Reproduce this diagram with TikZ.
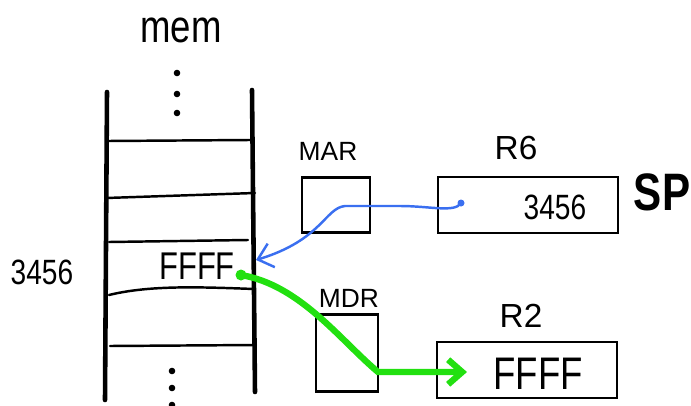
\documentclass[tikz,border=0pt]{standalone}
\usepackage{fontspec}
\setmainfont{Liberation Sans}
\newfontfamily\narrowhand[FakeStretch=0.8]{Liberation Sans}
\usepackage{xcolor}
\usetikzlibrary{arrows.meta}

\definecolor{ptrblue}{HTML}{3A6FF0}
\definecolor{datagreen}{HTML}{22E010}

\tikzset{
  reg/.style={draw, line width=1.4pt, inner sep=0pt},
  lbl/.style={inner sep=0pt, font=\fontsize{15}{15}\selectfont},
  val/.style={inner sep=0pt, font=\narrowhand\fontsize{#1}{#1}\selectfont},
  memline/.style={line width=2.6pt, line cap=round},
  rowline/.style={line width=1.4pt, line cap=round}
}

\begin{document}
\begin{tikzpicture}[x=0.02cm, y=-0.02cm]
    \useasboundingbox (0,0) rectangle (691,406);
    % Memory column
    \node[val=26] (mem) at (181,30) {mem};
    \foreach \y in {73,94,113} \fill (177,\y) circle (3.3);
    \draw[memline] (107,92) -- (105,400);
    \draw[memline] (252,90) -- (255,392);
    \draw[rowline] (108,141) -- (250,140);
    \draw[rowline] (106,198) -- (255,193);
    \draw[rowline] (109,242) -- (248,240);
    \draw[rowline] (109,295) .. controls (150,285) and (200,287) .. (254,289);
    \draw[rowline] (110,346) -- (256,345);
    \foreach \y in {371,388,405} \fill (172,\y) circle (3.3);
    % Address and contents of the cell
    \node[val=20] (addr) at (42,272) {3456};
    \node[val=22] (cell) at (197,266) {FFFF};
    \coordinate (cellin) at (256,260);
    \coordinate (celldot) at (241,275);
    % Registers
    \node[lbl] (marlbl) at (328,151) {MAR};
    \node[reg, minimum width=1.36cm, minimum height=1.1cm] (mar) at (336,205) {};
    \node[lbl, font=\fontsize{19}{19}\selectfont] (r6lbl) at (516,148) {R6};
    \node[reg, minimum width=3.6cm, minimum height=1.12cm] (r6) at (528,205) {};
    \node[val=20] (r6val) at (555,207) {3456};
    \coordinate (spdot) at (461,203);
    \node[inner sep=0pt, font=\narrowhand\fontsize{30}{30}\selectfont\bfseries] (sp) at (662,192) {SP};
    \node[lbl] (mdrlbl) at (349,298) {MDR};
    \node[reg, minimum width=1.24cm, minimum height=1.54cm] (mdr) at (347,353) {};
    \node[lbl, font=\fontsize{19}{19}\selectfont] (r2lbl) at (521,316) {R2};
    \node[reg, minimum width=3.6cm, minimum height=1.12cm] (r2) at (527,370) {};
    \node[val=26] (r2val) at (538,374) {FFFF};
    \coordinate (r2in) at (467,372);
    % Stack pointer used as address
    \fill[ptrblue] (spdot) circle (3.5);
    \draw[ptrblue, line width=1.4pt, -{Straight Barb[length=8pt, width=14pt]}]
        (spdot) .. controls (455,213) and (430,206) .. (400,206) -- (345,206)
        .. controls (325,208) and (322,240) .. (cellin);
    % Data copied into R2
    \fill[datagreen] (celldot) circle (5.5);
    \draw[datagreen, line width=3.6pt, line cap=round, -{Straight Barb[length=8pt, width=14pt]}]
        (celldot) .. controls (300,285) and (340,340) .. (378,372) -- (r2in);
\end{tikzpicture}
\end{document}
